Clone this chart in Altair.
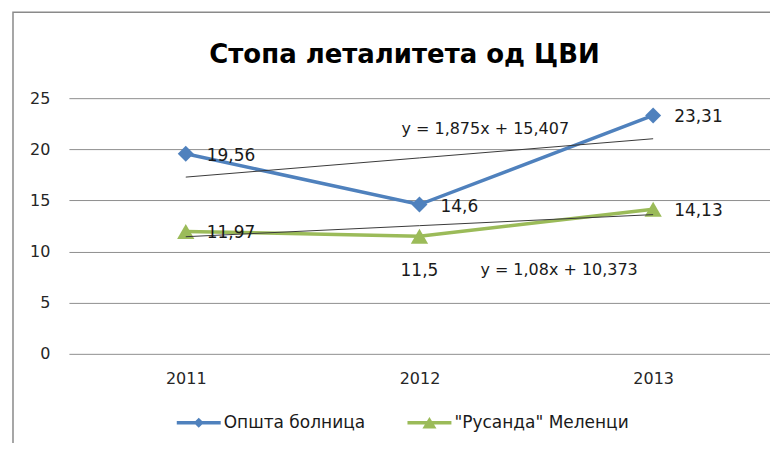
import altair as alt
import pandas as pd

years = ["2011", "2012", "2013"]
series_names = ["Општа болница", "\"Русанда\" Меленци"]
opsta = [19.56, 14.6, 23.31]
rusanda = [11.97, 11.5, 14.13]
trend_slope = [1.875, 1.08]
trend_intercept = [15.407, 10.373]
equations = ["y = 1,875x + 15,407", "y = 1,08x + 10,373"]
y_ticks = [0, 5, 10, 15, 20, 25]
colors = ["#4F81BD", "#9BBB59"]
title_text = "Стопа леталитета од ЦВИ"

FONT = "DejaVu Sans"
FS = 16

rows = []
for name, vals, m, b in zip(series_names, [opsta, rusanda], trend_slope, trend_intercept):
    for i, (yr, v) in enumerate(zip(years, vals)):
        rows.append({
            "year": yr, "series": name, "value": v,
            "label": f"{v:g}".replace(".", ","),
            "trend": m * (i + 1) + b,
        })
df = pd.DataFrame(rows)

x_enc = alt.X("year:N",
              scale=alt.Scale(type="point", padding=0.5, domain=years),
              axis=alt.Axis(title=None, labelAngle=0, domain=False, ticks=False,
                            labelFontSize=FS, labelPadding=17, labelColor="#262626",
                            labelFont=FONT, grid=False))
y_enc = alt.Y("value:Q",
              scale=alt.Scale(domain=[0, 25], nice=False),
              axis=alt.Axis(title=None, values=y_ticks, domain=False, ticks=False,
                            grid=True, gridColor="#8f8f8f", gridWidth=1,
                            labelFontSize=FS, labelPadding=19, labelColor="#262626",
                            labelFont=FONT))

base = alt.Chart(df)
one = pd.DataFrame({"a": [0]})

# outer frame
frame = alt.Chart(one).mark_rect(
    fillOpacity=0, stroke="#8a8a8a", strokeWidth=1.5
).encode(x=alt.value(-56), y=alt.value(-86), x2=alt.value(760), y2=alt.value(420))

# title
title = alt.Chart(one).mark_text(
    font=FONT, fontSize=26, fontWeight="bold", color="#000000",
    align="center", baseline="alphabetic"
).encode(x=alt.value(336), y=alt.value(-35), text=alt.value(title_text))

layers = [frame, title]
shapes = ["diamond", "triangle-up"]
sizes = [256, 300]
for i, name in enumerate(series_names):
    sub = base.transform_filter(alt.datum.series == name)
    layers.append(sub.mark_line(color=colors[i], strokeWidth=3.5).encode(x=x_enc, y=y_enc))
    layers.append(sub.mark_point(filled=True, opacity=1, shape=shapes[i], size=sizes[i],
                                 color=colors[i]).encode(x=x_enc, y=y_enc))
for i, name in enumerate(series_names):
    sub = base.transform_filter(alt.datum.series == name)
    layers.append(sub.mark_line(color="#3a3a3a", strokeWidth=1).encode(
        x=x_enc, y=alt.Y("trend:Q")))

# data labels
lab_style = dict(font=FONT, fontSize=17, color="#1a1a1a", align="left", baseline="middle")
layers.append(base.transform_filter(alt.datum.series == series_names[0]).mark_text(
    dx=21, dy=2, **lab_style).encode(x=x_enc, y=y_enc, text="label:N"))
layers.append(base.transform_filter(
    (alt.datum.series == series_names[1]) & (alt.datum.year != years[1])).mark_text(
    dx=21, dy=2, **lab_style).encode(x=x_enc, y=y_enc, text="label:N"))
layers.append(base.transform_filter(
    (alt.datum.series == series_names[1]) & (alt.datum.year == years[1])).mark_text(
    dx=0, dy=35, font=FONT, fontSize=17, color="#1a1a1a", align="center",
    baseline="middle").encode(x=x_enc, y=y_enc, text="label:N"))

# trendline equations
eq_style = dict(font=FONT, fontSize=FS, color="#1a1a1a", align="left", baseline="middle")
layers.append(alt.Chart(one).mark_text(
    dx=-18, **eq_style).encode(x=alt.datum(years[1]), y=alt.datum(22.0),
                               text=alt.value(equations[0])))
layers.append(alt.Chart(one).mark_text(
    dx=61, **eq_style).encode(x=alt.datum(years[1]), y=alt.datum(8.2),
                              text=alt.value(equations[1])))

# legend-only layer
p_diamond = "M-1,-0.08H1V0.08H-1Z M0,-0.23L0.23,0L0,0.23L-0.23,0Z"
p_triangle = "M-1,-0.08H1V0.08H-1Z M0,-0.26L0.32,0.26L-0.32,0.26Z"
leg = alt.Legend(title=None, orient="none", legendX=108, legendY=303, direction="horizontal",
                 symbolSize=1936, symbolStrokeWidth=0, labelFont=FONT, labelFontSize=17,
                 labelColor="#1a1a1a", columnPadding=42, labelOffset=3, labelLimit=400)
layers.append(base.transform_filter("false").mark_point(filled=True, opacity=1, size=1936).encode(
    x=x_enc, y=y_enc,
    color=alt.Color("series:N", scale=alt.Scale(domain=series_names, range=colors), legend=leg),
    shape=alt.Shape("series:N", scale=alt.Scale(domain=series_names, range=[p_diamond, p_triangle]),
                    legend=leg),
))

chart = alt.layer(*layers).properties(
    width=702, height=256,
    padding={"left": 61, "top": 90, "right": 0, "bottom": 89},
    autosize=alt.AutoSizeParams(type="none"),
).configure_view(strokeWidth=0)

chart.save("out.html", embed_options={"renderer": "svg", "actions": False})
